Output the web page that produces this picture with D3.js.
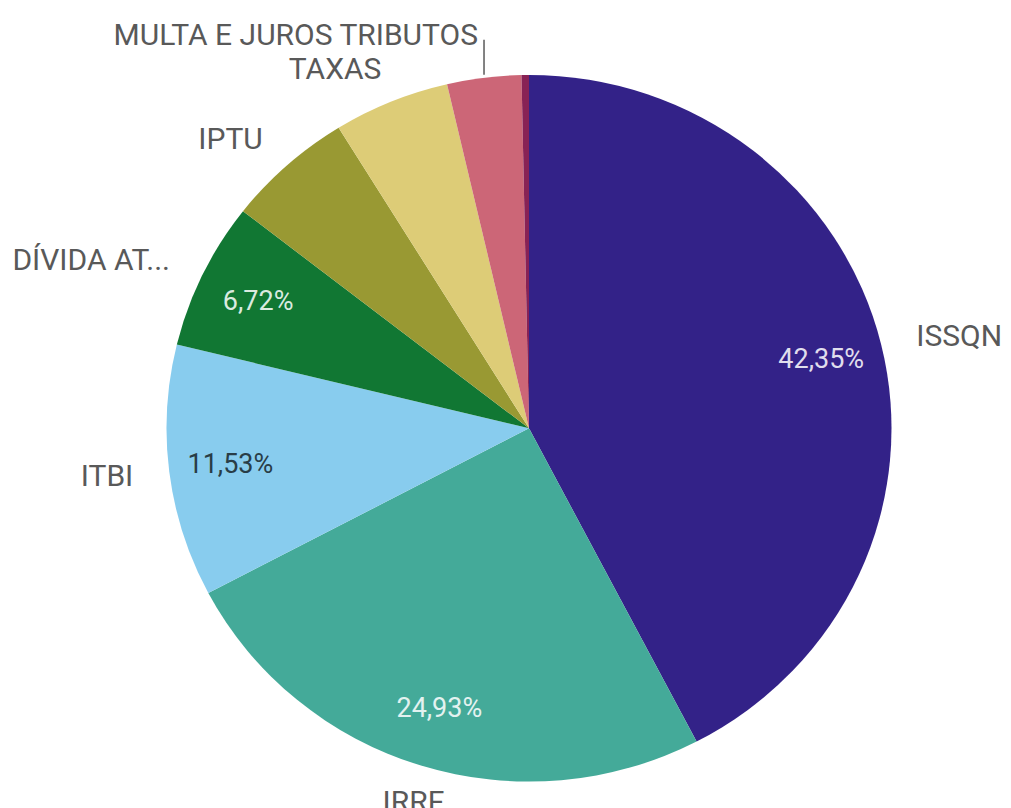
<!DOCTYPE html>
<html>
<head>
<meta charset="utf-8">
<script src="https://cdn.jsdelivr.net/npm/d3@7"></script>
<style>
  html, body { margin: 0; padding: 0; background: #fff; }
  svg text { font-family: Roboto, "Noto Sans", sans-serif; }
</style>
</head>
<body>
<svg id="chart" width="1011" height="808"></svg>
<script>
// dados (percentuais)
const categories = ["ISSQN", "IRRF", "ITBI", "DÍVIDA ATIVA", "IPTU", "TAXAS", "MULTA E JUROS TRIBUTOS", "OUTROS"];
const shortLabels = ["ISSQN", "IRRF", "ITBI", "DÍVIDA AT...", "IPTU", "TAXAS", "MULTA E JUROS TRIBUTOS", ""];
const values = [42.35, 24.93, 11.53, 6.72, 5.67, 5.17, 3.30, 0.33];
const colors = ["#332288", "#44AA99", "#88CCEE", "#117733", "#999933", "#DDCC77", "#CC6677", "#882255"];
const showPct = [true, true, true, true, false, false, false, false];

const svg = d3.select("#chart");
const cx = 529, cy = 428.3;
const rx = 362.5, ry = 353.3;   // imagem original levemente esticada na horizontal
const r = ry;

const data = categories.map((c, i) => ({ name: c, label: shortLabels[i], value: values[i], color: colors[i], pct: showPct[i] }));

const pie = d3.pie().sort(null).value(d => d.value);
const arcs = pie(data);
const arc = d3.arc().innerRadius(0).outerRadius(r);

const g = svg.append("g")
    .attr("transform", `translate(${cx},${cy}) scale(${rx / ry},1)`);

g.selectAll("path")
    .data(arcs)
    .enter()
    .append("path")
    .attr("d", arc)
    .attr("fill", d => d.data.color);

// ponto na elipse para um ângulo e fator de raio
const pt = (a, k) => [cx + Math.sin(a) * rx * k, cy - Math.cos(a) * ry * k];
const mid = d => (d.startAngle + d.endAngle) / 2;

// percentuais dentro das fatias
svg.selectAll(".pct")
    .data(arcs.filter(d => d.data.pct))
    .enter()
    .append("text")
    .attr("class", "pct")
    .attr("x", d => pt(mid(d), 0.83)[0])
    .attr("y", d => pt(mid(d), 0.83)[1])
    .attr("text-anchor", "middle")
    .attr("dominant-baseline", "central")
    .attr("font-size", "27px")
    .attr("fill", d => {
        const c = d3.hsl(d.data.color);
        return c.l > 0.6 ? d3.interpolateRgb(d.data.color, "#000")(0.7) : d3.interpolateRgb(d.data.color, "#fff")(0.85);
    })
    .text(d => d.data.value.toFixed(2).replace(".", ",") + "%");

// rótulos externos
const outer = arcs.filter(d => d.data.label && d.data.value >= 1);
outer.forEach(d => {
    const a = mid(d);
    const s = Math.sin(a), c = Math.cos(a);
    const t = svg.append("text")
        .attr("font-size", "30px")
        .attr("fill", "#595959")
        .text(d.data.label);
    if (d.data.value < 4) {
        // fatia pequena: rótulo deslocado para cima com linha guia
        const [ex, ey] = pt(a, 1.0);
        svg.append("line")
            .attr("x1", ex).attr("x2", ex)
            .attr("y1", ey - 3).attr("y2", ey - 38)
            .attr("stroke", "#595959")
            .attr("stroke-width", 1.5);
        t.attr("x", ex - 6).attr("y", ey - 33).attr("text-anchor", "end");
        return;
    }
    if (Math.abs(s) > 0.5) {
        const [x, y] = pt(a, 1.1);
        t.attr("x", x).attr("y", y)
            .attr("text-anchor", s > 0 ? "start" : "end")
            .attr("dominant-baseline", "central");
    } else {
        const [x, y] = pt(a, 1.07);
        t.attr("x", x).attr("y", y);
        if (c > 0) {
            t.attr("text-anchor", s < 0 ? "end" : "start");
        } else {
            t.attr("text-anchor", "middle").attr("dominant-baseline", "hanging");
        }
    }
});
</script>
</body>
</html>
